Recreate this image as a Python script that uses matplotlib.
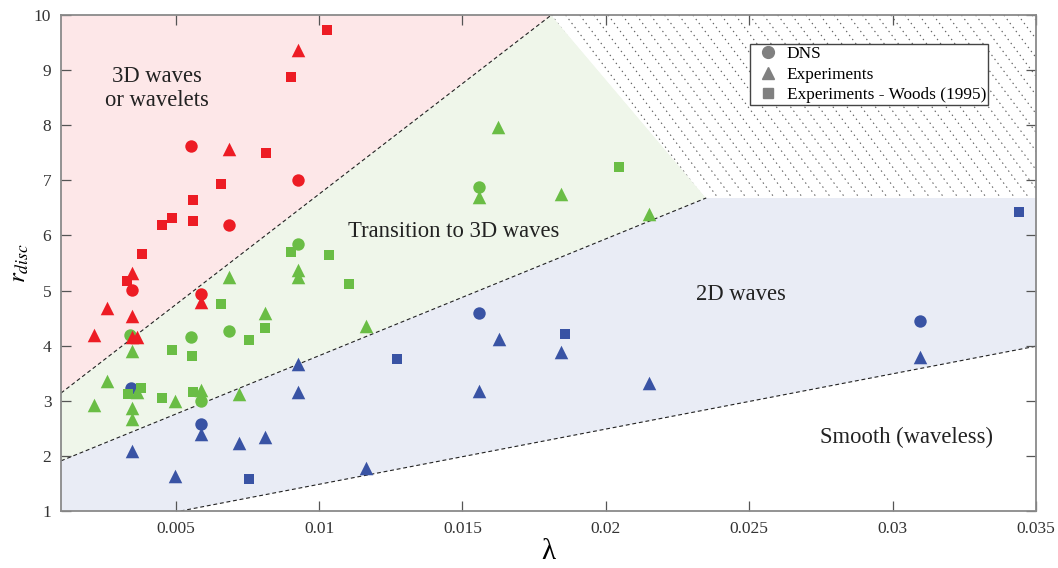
import matplotlib
matplotlib.use("Agg")
import matplotlib.pyplot as plt
import numpy as np
from matplotlib.lines import Line2D
from matplotlib.patches import Polygon

plt.rcParams['font.family'] = ['Liberation Serif', 'DejaVu Serif']
plt.rcParams['mathtext.fontset'] = 'stix'

# ---------------- data ----------------
# 3D waves (red)
red_dns_x = [0.00552, 0.00928, 0.00686, 0.00349, 0.00587]
red_dns_y = [7.63, 7.00, 6.19, 5.01, 4.94]
red_exp_x = [0.00928, 0.00684, 0.00349, 0.00259, 0.00349, 0.00215, 0.00349, 0.00366, 0.00587]
red_exp_y = [9.36, 7.57, 5.31, 4.69, 4.54, 4.19, 4.15, 4.15, 4.80]
red_woods_x = [0.01029, 0.00901, 0.00814, 0.00658, 0.00560, 0.00488, 0.00451, 0.00560, 0.00384, 0.00331]
red_woods_y = [9.73, 8.87, 7.50, 6.93, 6.64, 6.32, 6.19, 6.27, 5.66, 5.17]

# Transition (green)
green_dns_x = [0.00928, 0.01558, 0.00552, 0.00684, 0.00340, 0.00587]
green_dns_y = [5.84, 6.88, 4.16, 4.26, 4.19, 2.99]
green_exp_x = [0.00686, 0.00928, 0.00928, 0.00810, 0.00349, 0.00262, 0.00366, 0.00497, 0.00215,
               0.00587, 0.00719, 0.00349, 0.00349, 0.01558, 0.01843, 0.02151, 0.01163, 0.01623]
green_exp_y = [5.25, 5.37, 5.24, 4.60, 3.91, 3.35, 3.16, 3.00, 2.92,
               3.19, 3.13, 2.86, 2.66, 6.70, 6.75, 6.38, 4.36, 7.97]
green_woods_x = [0.00901, 0.01035, 0.01105, 0.00658, 0.00813, 0.00756, 0.00488, 0.00556, 0.00333,
                 0.00380, 0.00451, 0.00560, 0.02047]
green_woods_y = [5.70, 5.64, 5.11, 4.76, 4.32, 4.11, 3.93, 3.82, 3.12,
                 3.24, 3.05, 3.16, 7.24]

# 2D waves (blue)
blue_dns_x = [0.00345, 0.00587, 0.01558, 0.03097]
blue_dns_y = [3.24, 2.58, 4.60, 4.45]
blue_exp_x = [0.00587, 0.00719, 0.00810, 0.00928, 0.00928, 0.00349, 0.00497, 0.01628, 0.01843,
              0.01558, 0.02151, 0.01163, 0.03097]
blue_exp_y = [2.39, 2.24, 2.34, 3.67, 3.15, 2.09, 1.64, 4.12, 3.89,
              3.18, 3.33, 1.78, 3.79]
blue_woods_x = [0.00756, 0.01271, 0.01857, 0.03442]
blue_woods_y = [1.58, 3.75, 4.22, 6.42]

# regime boundaries (x, y)
bound_3d = [(0.001, 3.14), (0.0181, 10.0)]
bound_2d = [(0.001, 1.91), (0.0235, 6.68)]
bound_smooth = [(0.00517, 1.0), (0.035, 3.99)]
hatch_top = 6.68

xticks = [0.005, 0.01, 0.015, 0.02, 0.025, 0.03, 0.035]
xticklabels = ['0.005', '0.01', '0.015', '0.02', '0.025', '0.03', '0.035']
yticks = [1, 2, 3, 4, 5, 6, 7, 8, 9, 10]

RED = '#ED1C24'
GREEN = '#6ABD45'
BLUE = '#3953A4'

# ---------------- figure ----------------
fig = plt.figure(figsize=(10.58, 5.68), dpi=100)
ax = fig.add_axes([0.0577, 0.1004, 0.9215, 0.8732])
x0, x1, y0, y1 = 0.001, 0.035, 1.0, 10.0
ax.set_xlim(x0, x1)
ax.set_ylim(y0, y1)

(a1, b1), (a2, b2) = bound_3d
(c1, d1), (c2, d2) = bound_2d
(e1, f1), (e2, f2) = bound_smooth

ax.add_patch(Polygon([(x0, b1), (a2, b2), (x0, y1)], closed=True,
                     facecolor='#FDE7E8', edgecolor='none', zorder=0))
ax.add_patch(Polygon([(x0, d1), (x0, b1), (a2, b2), (c2, d2)], closed=True,
                     facecolor='#EFF6EA', edgecolor='none', zorder=0))
ax.add_patch(Polygon([(x0, y0), (e1, f1), (e2, f2), (x1, hatch_top), (c2, d2), (x0, d1)],
                     closed=True, facecolor='#E9ECF5', edgecolor='none', zorder=0))
hatch_poly = Polygon([(a2, b2), (x1, y1), (x1, hatch_top), (c2, d2)], closed=True,
                     facecolor='white', edgecolor='none', zorder=0)
ax.add_patch(hatch_poly)

# dotted diagonal hatching of the unexplored corner
h_slope = 2.6      # axes-units drop per unit run
h_step = 0.0145    # horizontal spacing in axes units
for xs in np.arange(0.3, 1.4, h_step):
    ax.plot([xs, xs + 1.0 / h_slope], [1.0, 0.0], transform=ax.transAxes,
            linestyle=(0, (1.3, 3.2)), color='#606060', linewidth=0.8,
            clip_path=hatch_poly, zorder=0.5)

dash_kw = dict(color='#222222', linestyle=(0, (3.5, 2.5)), linewidth=0.8, zorder=1)
ax.plot([a1, a2], [b1, b2], **dash_kw)
ax.plot([c1, c2], [d1, d2], **dash_kw)
ax.plot([e1, e2], [f1, f2], **dash_kw)

S_CIRC, S_TRI, S_SQ = 80, 95, 46
groups = [
    (BLUE, blue_woods_x, blue_woods_y, blue_exp_x, blue_exp_y, blue_dns_x, blue_dns_y),
    (GREEN, green_woods_x, green_woods_y, green_exp_x, green_exp_y, green_dns_x, green_dns_y),
    (RED, red_woods_x, red_woods_y, red_exp_x, red_exp_y, red_dns_x, red_dns_y),
]
z = 3
for col, wx, wy, ex, ey, dx, dy in groups:
    ax.scatter(wx, wy, marker='s', s=S_SQ, color=col, linewidths=0, zorder=z)
    ax.scatter(ex, ey, marker='^', s=S_TRI, color=col, linewidths=0, zorder=z + 0.1)
    ax.scatter(dx, dy, marker='o', s=S_CIRC, color=col, linewidths=0, zorder=z + 0.2)
    z += 1

txt_kw = dict(fontsize=16.3, color='#222222', ha='center', va='center', zorder=10)
ax.text(0.00436, 8.67, '3D waves\nor wavelets', linespacing=1.2, **txt_kw)
ax.text(0.0147, 6.07, 'Transition to 3D waves', **txt_kw)
ax.text(0.0247, 4.92, '2D waves', **txt_kw)
ax.text(0.0305, 2.34, 'Smooth (waveless)', **txt_kw)

ax.set_xticks(xticks)
ax.set_xticklabels(xticklabels)
ax.set_yticks(yticks)
ax.tick_params(direction='in', length=7, width=0.9, color='#555555', top=True, right=True,
               labelsize=12.5, labelcolor='#333333', pad=7)
for sp in ax.spines.values():
    sp.set_color('#8a8a8a')
    sp.set_linewidth(1.3)

ax.set_xlabel('λ', fontsize=21, labelpad=2)
ax.set_ylabel(r'$r_{disc}$', fontsize=18)
ax.yaxis.set_label_coords(-0.031, 0.5)

handles = [
    Line2D([], [], marker='o', linestyle='none', color='#808080', markersize=8.5),
    Line2D([], [], marker='^', linestyle='none', color='#808080', markersize=9),
    Line2D([], [], marker='s', linestyle='none', color='#808080', markersize=6.5),
]
leg = ax.legend(handles, ['DNS', 'Experiments', 'Experiments - Woods (1995)'],
                loc='upper left', bbox_to_anchor=(0.7067, 0.9415), borderaxespad=0,
                fancybox=False, framealpha=1, edgecolor='#444444', fontsize=12.4,
                handletextpad=0.2, handlelength=1.8, labelspacing=0.26, borderpad=0.12)
leg.get_frame().set_linewidth(1.0)
leg.set_zorder(20)

fig.savefig('out.png', dpi=100)
